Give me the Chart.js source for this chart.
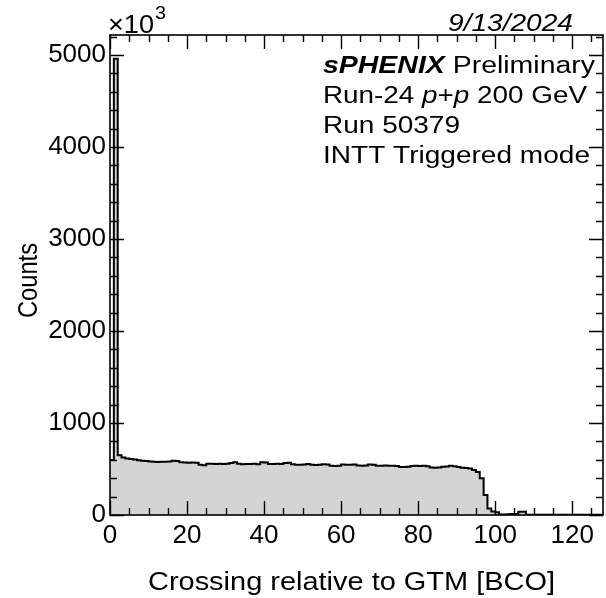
<!DOCTYPE html>
<html>
<head>
<meta charset="utf-8">
<script src="https://cdn.jsdelivr.net/npm/chart.js@4/dist/chart.umd.min.js"></script>
<style>
  html, body { margin: 0; padding: 0; background: #fff; }
</style>
</head>
<body>
<canvas id="hist" width="606" height="598"></canvas>
<script>
// counts per crossing bin (x10^3), bins of width 1 starting at 0
const counts = [
  598, 4960, 650, 625, 615, 608, 602, 596, 590, 586,
  582, 578, 576, 580, 578, 582, 590, 588, 572, 570,
  568, 571, 569, 545, 541, 556, 558, 555, 557, 553,
  556, 566, 573, 556, 552, 554, 553, 556, 552, 572,
  571, 555, 553, 556, 554, 566, 568, 552, 547, 546,
  549, 554, 545, 543, 546, 551, 548, 534, 532, 535,
  548, 546, 547, 548, 538, 535, 537, 548, 546, 536,
  535, 538, 534, 536, 533, 522, 521, 524, 533, 535,
  532, 534, 531, 516, 514, 517, 525, 526, 536, 530,
  522, 514, 510, 506, 488, 466, 400, 217, 72, 38,
  30, 6, 5, 8, 10, 12, 34, 36, 4, 3,
  2, 3, 2, 2, 3, 2, 2, 3, 2, 2,
  3, 2, 2, 2, 3, 2, 2, 2
];
const xTicks = [0, 20, 40, 60, 80, 100, 120];
const yTicks = [0, 1000, 2000, 3000, 4000, 5000];
const xTitle = 'Crossing relative to GTM [BCO]';
const yTitle = 'Counts';
const xMax = 128;
const yMax = 5217;
const xMinorStep = 5;
const yMinorStep = 200;

// histogram outline: one point per bin low edge, plus the last upper edge
const points = counts.map((v, i) => ({ x: i, y: v }));
points.push({ x: counts.length, y: counts[counts.length - 1] });

const FONT = '"Liberation Sans", Arial, Helvetica, sans-serif';

// ROOT style frame with ticks pointing inwards on all four sides
const framePlugin = {
  id: 'frame',
  afterDatasetsDraw(chart) {
    const { ctx, chartArea: a, scales: { x, y } } = chart;
    ctx.save();
    ctx.strokeStyle = '#000';
    ctx.lineWidth = 1.4;
    ctx.beginPath();
    for (let v = 0; v <= xMax; v += xMinorStep) {
      const px = Math.round(x.getPixelForValue(v)) + 0.5;
      const len = v % 20 === 0 ? 14 : 7;
      ctx.moveTo(px, a.bottom); ctx.lineTo(px, a.bottom - len);
      ctx.moveTo(px, a.top); ctx.lineTo(px, a.top + len);
    }
    for (let v = 0; v <= yMax; v += yMinorStep) {
      const py = Math.round(y.getPixelForValue(v)) + 0.5;
      const len = v % 1000 === 0 ? 14 : 7;
      ctx.moveTo(a.left, py); ctx.lineTo(a.left + len, py);
      ctx.moveTo(a.right, py); ctx.lineTo(a.right - len, py);
    }
    ctx.stroke();
    ctx.lineWidth = 1.6;
    ctx.strokeRect(a.left, a.top, a.right - a.left, a.bottom - a.top);
    ctx.restore();
  }
};

// text made of pieces with different fonts, squeezed/stretched to a given width
function drawRich(ctx, x, y, width, parts) {
  let natural = 0;
  parts.forEach(p => { ctx.font = p[1]; natural += ctx.measureText(p[0]).width; });
  const sx = width ? width / natural : 1;
  ctx.save();
  ctx.translate(x, y);
  ctx.scale(sx, 1);
  let cx = 0;
  parts.forEach(p => {
    ctx.font = p[1];
    ctx.fillText(p[0], cx, 0);
    cx += ctx.measureText(p[0]).width;
  });
  ctx.restore();
}

const textPlugin = {
  id: 'labels',
  afterDraw(chart) {
    const ctx = chart.ctx;
    ctx.save();
    ctx.fillStyle = '#000';
    ctx.textBaseline = 'alphabetic';
    ctx.textAlign = 'left';
    // exponent of the y axis
    drawRich(ctx, 108, 33, 46, [['\u00d710', '26px ' + FONT]]);
    drawRich(ctx, 155, 19, 11, [['3', '19px ' + FONT]]);
    // date
    drawRich(ctx, 448, 31, 125, [['9/13/2024', 'italic 23px ' + FONT]]);
    const reg = '23px ' + FONT, it = 'italic 23px ' + FONT, bi = 'italic bold 23px ' + FONT;
    drawRich(ctx, 323, 73, 272, [['sPHENIX', bi], [' Preliminary', reg]]);
    drawRich(ctx, 323, 103, 264, [['Run-24 ', reg], ['p', it], ['+', reg], ['p', it], [' 200 GeV', reg]]);
    drawRich(ctx, 323, 133, 137, [['Run 50379', reg]]);
    drawRich(ctx, 323, 163, 267, [['INTT Triggered mode', reg]]);
    // axis titles
    drawRich(ctx, 148, 590, 407, [[xTitle, '26px ' + FONT]]);
    ctx.save();
    ctx.translate(37, 318);
    ctx.rotate(-Math.PI / 2);
    drawRich(ctx, 0, 0, 75, [[yTitle, '27px ' + FONT]]);
    ctx.restore();
    ctx.restore();
  }
};

new Chart(document.getElementById('hist'), {
  type: 'line',
  data: {
    datasets: [{
      data: points,
      stepped: true,
      borderColor: '#000',
      borderWidth: 2,
      backgroundColor: '#d4d4d4',
      fill: 'origin',
      pointRadius: 0,
      tension: 0
    }]
  },
  options: {
    responsive: false,
    animation: false,
    devicePixelRatio: 1,
    layout: { padding: { top: 35, right: 3, left: 0, bottom: 0 } },
    plugins: { legend: { display: false }, tooltip: { enabled: false } },
    scales: {
      x: {
        type: 'linear',
        min: 0,
        max: xMax,
        afterBuildTicks: s => { s.ticks = xTicks.map(v => ({ value: v })); },
        afterFit: s => { s.height = 83; },
        grid: { display: false, drawTicks: false },
        border: { display: false },
        ticks: { color: '#000', padding: 5, maxRotation: 0, autoSkip: false, font: { family: FONT, size: 26 }, callback: v => String(v) }
      },
      y: {
        type: 'linear',
        min: 0,
        max: yMax,
        afterBuildTicks: s => { s.ticks = yTicks.map(v => ({ value: v })); },
        afterFit: s => { s.width = 110; },
        grid: { display: false, drawTicks: false },
        border: { display: false },
        ticks: { color: '#000', padding: 4, autoSkip: false, font: { family: FONT, size: 26 }, callback: v => String(v) }
      }
    }
  },
  plugins: [framePlugin, textPlugin]
});
</script>
</body>
</html>
